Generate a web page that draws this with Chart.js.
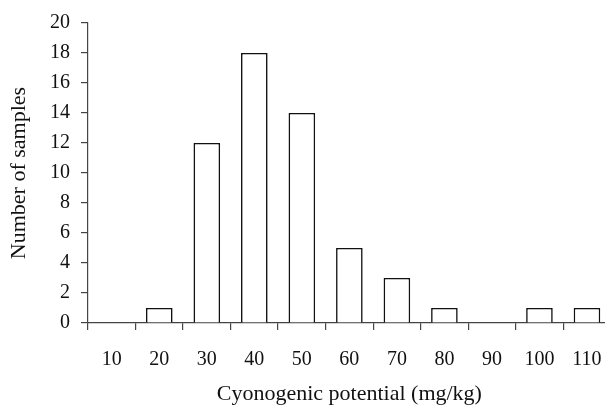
<!DOCTYPE html>
<html>
<head>
<meta charset="utf-8">
<script src="https://cdn.jsdelivr.net/npm/chart.js@4"></script>
<style>
  html, body { margin: 0; padding: 0; background: #fff; overflow: hidden; }
  #wrap { width: 620px; height: 408px; }
</style>
</head>
<body>
<div id="wrap"><canvas id="chart" width="620" height="408"></canvas></div>
<script>
// 히스토그램 데이터
const categories = ['10', '20', '30', '40', '50', '60', '70', '80', '90', '100', '110'];
const sampleCounts = [0, 1, 12, 18, 14, 5, 3, 1, 0, 1, 1];
const yTicks = [0, 2, 4, 6, 8, 10, 12, 14, 16, 18, 20];

const serif = "'Liberation Serif', 'DejaVu Serif', serif";
const axisColor = '#444';

document.addEventListener('DOMContentLoaded', function() {
    const ctx = document.getElementById('chart').getContext('2d');

    new Chart(ctx, {
        type: 'bar',
        data: {
            labels: categories,
            datasets: [{
                data: sampleCounts,
                backgroundColor: '#ffffff',
                borderColor: '#111111',
                borderWidth: 1.6,
                barPercentage: 0.56,
                categoryPercentage: 1.0
            }]
        },
        options: {
            responsive: false,
            animation: false,
            layout: { padding: { top: 21, right: 9, left: 0, bottom: 0 } },
            plugins: {
                legend: { display: false },
                tooltip: { enabled: false }
            },
            scales: {
                x: {
                    offset: true,
                    grid: {
                        offset: true,
                        drawOnChartArea: false,
                        drawTicks: true,
                        tickLength: 7,
                        color: axisColor,
                        lineWidth: 1.2
                    },
                    border: { display: true, color: axisColor, width: 1.2 },
                    ticks: {
                        color: '#111',
                        font: { family: serif, size: 20 },
                        padding: 18,
                        maxRotation: 0,
                        autoSkip: false
                    },
                    title: {
                        display: true,
                        text: 'Cyonogenic potential (mg/kg)',
                        color: '#111',
                        font: { family: serif, size: 22 },
                        padding: { top: 0, bottom: 1 }
                    },
                    afterFit: function(scale) { scale.height = 85; }
                },
                y: {
                    min: 0,
                    max: 20,
                    afterBuildTicks: function(scale) {
                        scale.ticks = yTicks.map(v => ({ value: v }));
                    },
                    grid: {
                        drawOnChartArea: false,
                        drawTicks: true,
                        tickLength: 7,
                        color: axisColor,
                        lineWidth: 1.2
                    },
                    border: { display: true, color: axisColor, width: 1.2 },
                    ticks: {
                        color: '#111',
                        font: { family: serif, size: 20 },
                        padding: 11
                    },
                    title: {
                        display: true,
                        text: 'Number of samples',
                        color: '#111',
                        font: { family: serif, size: 22 },
                        padding: { top: 6, bottom: 0 }
                    },
                    afterFit: function(scale) { scale.width = 88; }
                }
            }
        }
    });
});
</script>
</body>
</html>
